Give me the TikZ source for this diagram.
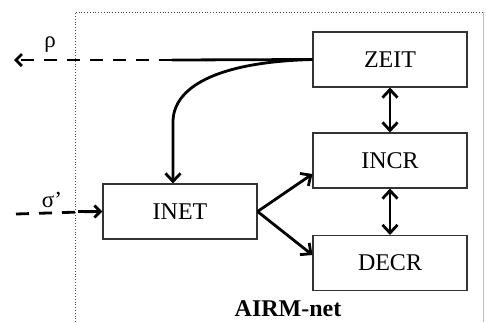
\documentclass[tikz,border=0pt]{standalone}
\usepackage{fontspec}
\setmainfont{Liberation Serif}
\usetikzlibrary{arrows.meta}
\begin{document}
\begin{tikzpicture}[x=1pt,y=-1pt,
  blk/.style={draw=black!80,line width=1.1pt,minimum width=154pt,minimum height=55pt,inner sep=0pt,font=\fontsize{24}{26}\selectfont},
  conn/.style={line width=2.8pt,-{Straight Barb[length=8pt,width=15pt,line width=2.8pt]}},
  biconn/.style={line width=2.8pt,{Straight Barb[length=8pt,width=15pt,line width=2.8pt]}-{Straight Barb[length=8pt,width=15pt,line width=2.8pt]}},
  dsh/.style={line width=2.8pt,dash pattern=on 13pt off 10pt},
  frame/.style={line width=0.8pt,dotted,black!70}]
\useasboundingbox (0,0) rectangle (486,322);
\draw[frame] (75,322) -- (75,12) -- (483,12);
\draw[black!25,line width=0.6pt] (483,12) -- (483,322);
\node[blk] (zeit) at (390,59.5) {ZEIT};
\node[blk] (incr) at (390,160.5) {INCR};
\node[blk] (decr) at (390,263) {DECR};
\node[blk] (inet) at (180,211.5) {INET};
\coordinate (rhoend) at (14,60);
\coordinate (sigstart) at (16,214);
\coordinate (bend) at (172,60);
\coordinate (turn) at (173,122);
\draw[line width=2.8pt] (zeit.west) -- (bend);
\draw[dsh,-{Straight Barb[length=6pt,width=12pt,line width=2.8pt]}] (bend) -- (rhoend);
\draw[conn] (zeit.west) .. controls (215,62) and (173,88) .. (turn) -- (turn |- inet.north);
\draw[dsh] (sigstart) -- ([xshift=-6pt]inet.west);
\draw[line width=2.8pt,-{Straight Barb[length=6pt,width=12pt,line width=2.8pt]}] ([xshift=-24pt]inet.west) -- (inet.west);
\draw[conn] (inet.east) -- (incr.west |- 0,174);
\draw[conn] (inet.east) -- (decr.west |- 0,255);
\draw[biconn] (zeit.south) -- (incr.north);
\draw[biconn] (incr.south) -- (decr.north);
\node[font=\fontsize{23}{25}\selectfont] (rho) at (50,45) {ρ};
\node[font=\fontsize{23}{25}\selectfont] (sig) at (52,200) {σ'};
\node[font=\fontsize{24}{26}\selectfont\bfseries] (title) at (288,309) {AIRM-net};
\end{tikzpicture}
\end{document}
